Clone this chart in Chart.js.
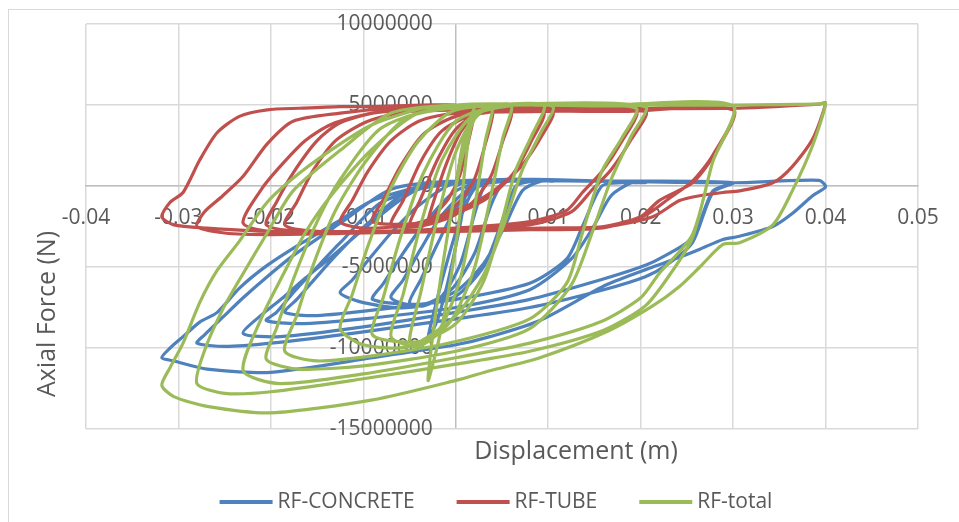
<!DOCTYPE html>
<html>
<head>
<meta charset="utf-8">
<script src="https://cdn.jsdelivr.net/npm/chart.js@4.4.1/dist/chart.umd.min.js"></script>
<style>
    html, body { margin: 0; padding: 0; background: #ffffff; }
    #wrap { width: 959px; height: 522px; }
</style>
</head>
<body>
<div id="wrap"><canvas id="forceChart" width="959" height="522"></canvas></div>
<script>
// displacement (m), one line per loading branch
const displacement = [
    0, 0.0008, 0.002,
    0.0013, 0.0004, -0.0008, -0.002, -0.003,
    -0.0022, -0.001, 0.0005, 0.002, 0.004,
    0.0032, 0.002, 0.0005, -0.0015, -0.0035, -0.005,
    -0.0038, -0.002, 0.0, 0.0025, 0.006,
    0.0051, 0.0038, 0.002, -0.0005, -0.004, -0.007,
    -0.0057, -0.0038, -0.0015, 0.002, 0.0095,
    0.0082, 0.0065, 0.0048, 0.003, 0.0, -0.004, -0.009,
    -0.0078, -0.006, -0.0035, 0.0, 0.005, 0.0105,
    0.0092, 0.0072, 0.0052, 0.003, 0.0, -0.005, -0.01, -0.0125,
    -0.0112, -0.0095, -0.007, -0.004, 0.0, 0.01, 0.0195,
    0.018, 0.0158, 0.0137, 0.012, 0.008, 0.0, -0.008, -0.015, -0.0185,
    -0.0172, -0.0155, -0.013, -0.0095, -0.005, 0.005, 0.0205,
    0.019, 0.0168, 0.0148, 0.0125, 0.008, 0.0, -0.01, -0.017, -0.0205,
    -0.0194, -0.0176, -0.015, -0.0125, -0.008, 0.0, 0.015, 0.03,
    0.0278, 0.0256, 0.022, 0.02, 0.0156, 0.008, 0.0, -0.01, -0.019, -0.023,
    -0.0209, -0.0187, -0.0163, -0.0135, -0.009, -0.004, 0.005, 0.018, 0.03,
    0.0278, 0.0256, 0.023, 0.0205, 0.016, 0.008, 0.0, -0.01, -0.02, -0.025, -0.028,
    -0.0272, -0.0252, -0.023, -0.0204, -0.0176, -0.0125, -0.007, 0.0, 0.015, 0.03, 0.0393, 0.04,
    0.0386, 0.0364, 0.0343, 0.0307, 0.0289, 0.0264, 0.0242, 0.0213, 0.0163, 0.0091, 0.0037, 0.0, -0.009, -0.02, -0.0269, -0.0305, -0.0318,
    -0.0309, -0.0295, -0.0277, -0.0258, -0.0234, -0.0204, -0.0169, -0.0125, -0.009, -0.0036, 0.0
];

// forces in MN
const concreteMN = [
    0, 0.2, 0.3,
    0.0, -2.6, -5.8, -8.3, -9.4,
    -7.4, -4.8, -2.0, -0.2, 0.3,
    0.2, -1.8, -4.8, -6.8, -7.4, -7.2,
    -5.8, -3.6, -1.4, 0.1, 0.3,
    0.2, -1.2, -4.2, -6.4, -7.4, -6.9,
    -5.8, -3.9, -1.8, 0.0, 0.4,
    0.3, 0.0, -2.5, -5.0, -6.8, -7.3, -7.0,
    -6.0, -4.4, -2.4, -0.3, 0.4, 0.3,
    0.3, -0.3, -2.6, -4.8, -6.5, -7.5, -7.2, -6.6,
    -5.8, -4.6, -2.9, -1.2, 0.2, 0.4, 0.2,
    0.2, 0.0, -2.5, -4.5, -6.0, -7.0, -7.6, -8.0, -7.8,
    -7.0, -5.9, -4.3, -2.3, -0.3, 0.4, 0.2,
    0.2, -0.6, -2.6, -4.5, -6.4, -7.5, -8.2, -8.5, -8.3,
    -7.8, -6.6, -5.0, -3.5, -1.0, 0.3, 0.3, 0.2,
    -0.3, -3.2, -4.5, -5.0, -5.8, -7.0, -7.8, -8.7, -9.3, -9.1,
    -7.9, -6.9, -5.7, -4.4, -2.2, -0.2, 0.3, 0.3, 0.2,
    -0.4, -3.5, -4.8, -5.6, -6.4, -7.5, -8.2, -9.0, -9.7, -9.9, -9.7,
    -9.2, -8.1, -6.9, -5.6, -4.3, -2.3, -0.2, 0.3, 0.3, 0.2, 0.35, -0.05,
    -0.6, -1.7, -2.5, -3.1, -3.3, -3.9, -4.4, -5.0, -6.1, -8.3, -9.3, -9.8, -10.6, -11.5, -11.3, -10.8, -10.6,
    -10.0, -9.3, -8.4, -7.8, -6.3, -4.9, -3.6, -2.1, -0.9, 0.0, 0.2
];

const tubeMN = [
    0, 2.5, 4.5,
    2.6, 0.6, -0.8, -1.6, -2.2,
    -0.6, 1.4, 3.3, 4.3, 4.7,
    2.6, 0.4, -0.9, -1.8, -2.3, -2.4,
    -0.8, 1.6, 3.5, 4.5, 4.7,
    2.8, 0.6, -0.9, -1.9, -2.5, -2.4,
    -0.9, 1.5, 3.4, 4.4, 4.6,
    2.8, 1.0, -0.1, -0.9, -1.7, -2.3, -2.2,
    -0.8, 1.2, 3.2, 4.3, 4.6, 4.6,
    3.0, 1.3, 0.2, -0.7, -1.5, -2.4, -2.6, -2.2,
    -0.9, 0.9, 2.8, 4.0, 4.5, 4.6, 4.6,
    2.8, 0.9, -0.4, -1.5, -2.2, -2.6, -2.8, -2.8, -2.4,
    -1.0, 0.9, 2.8, 4.0, 4.6, 4.7, 4.6,
    2.9, 1.0, -0.2, -1.6, -2.4, -2.7, -2.9, -2.8, -2.4,
    -1.0, 0.8, 2.8, 3.9, 4.6, 4.8, 4.6, 4.7,
    1.8, 0.2, -0.9, -1.9, -2.6, -2.7, -2.8, -2.9, -2.9, -2.3,
    -0.1, 1.4, 2.8, 3.8, 4.5, 4.7, 4.8, 4.6, 4.7,
    1.9, 0.3, -0.8, -1.8, -2.5, -2.7, -2.8, -2.9, -3.0, -2.9, -2.5,
    -1.6, -0.6, 0.6, 2.6, 4.0, 4.5, 4.8, 4.9, 4.8, 4.8, 5.05, 5.12,
    2.9, 1.2, 0.2, -0.3, -0.4, -0.6, -0.9, -1.9, -2.5, -2.6, -2.7, -2.7, -2.8, -2.8, -2.6, -2.4, -1.9,
    -1.0, -0.4, 1.6, 3.3, 4.3, 4.7, 4.8, 4.9, 4.9, 5.0, 5.0
];

const totalMN = [
    0, 2.7, 4.8,
    2.6, -2.0, -6.6, -9.9, -12.0,
    -8.0, -3.4, 1.3, 4.1, 5.0,
    2.8, -1.4, -5.7, -8.6, -9.7, -9.6,
    -6.6, -2.0, 2.1, 4.6, 5.0,
    3.0, -0.6, -5.1, -8.3, -9.9, -9.3,
    -6.7, -2.4, 1.6, 4.4, 5.0,
    3.1, 1.0, -2.6, -5.9, -8.5, -9.6, -9.2,
    -6.8, -3.2, 0.8, 4.0, 5.0, 4.9,
    3.3, 1.0, -2.4, -5.5, -8.0, -9.9, -9.8, -8.8,
    -6.7, -3.7, -0.1, 2.8, 4.7, 5.0, 4.8,
    3.0, 0.9, -2.9, -6.0, -8.2, -9.6, -10.4, -10.8, -10.2,
    -8.0, -5.0, -1.5, 1.7, 4.3, 5.0, 4.9,
    3.1, 0.4, -2.8, -6.1, -8.8, -10.2, -11.1, -11.3, -10.7,
    -8.8, -5.8, -2.2, 0.4, 3.6, 5.0, 4.95, 4.95,
    1.5, -3.0, -5.4, -6.9, -8.4, -9.7, -10.6, -11.6, -12.2, -11.4,
    -8.0, -5.5, -2.9, -0.6, 2.3, 4.5, 5.0, 4.95, 4.95,
    1.5, -3.2, -5.6, -7.4, -8.9, -10.2, -11.0, -11.9, -12.7, -12.8, -12.2,
    -10.2, -7.6, -5.4, -2.9, -0.3, 2.2, 4.5, 5.0, 5.0, 5.0, 5.05, 5.1,
    2.5, -0.3, -2.4, -3.5, -3.6, -5.0, -6.2, -7.4, -9.0, -10.6, -11.4, -12.0, -13.2, -14.0, -13.6, -13.0, -12.3,
    -11.2, -9.7, -7.2, -5.2, -3.4, -1.0, 0.8, 2.6, 3.8, 4.8, 5.0
];

const xTicks = [-0.04, -0.03, -0.02, -0.01, 0, 0.01, 0.02, 0.03, 0.04, 0.05];
const yTicks = [-15000000, -10000000, -5000000, 0, 5000000, 10000000];

const textColor = "#595959";
const gridColor = "#d9d9d9";
const axisColor = "#bfbfbf";
const fontFamily = '"Open Sans", "Liberation Sans", sans-serif';

function toPoints(forces) {
    const n = Math.min(displacement.length, forces.length);
    const pts = [];
    for (let i = 0; i < n; i++) {
        pts.push({ x: displacement[i], y: forces[i] * 1e6 });
    }
    return pts;
}

function series(label, forces, color, order) {
    return {
        label: label,
        data: toPoints(forces),
        showLine: true,
        borderColor: color,
        backgroundColor: color,
        borderWidth: 3.2,
        pointRadius: 0,
        tension: 0.25,
        order: order
    };
}

// frame, axis titles and legend
const chromePlugin = {
    id: "chrome",
    beforeDraw(chart) {
        const c = chart.ctx;
        c.save();
        c.strokeStyle = gridColor;
        c.lineWidth = 1;
        c.strokeRect(8.5, 9.5, 970, 530);
        c.restore();
    },
    afterDraw(chart) {
        const c = chart.ctx;
        c.save();
        c.fillStyle = textColor;
        c.font = "25px " + fontFamily;
        c.textAlign = "center";
        c.textBaseline = "middle";
        c.fillText("Displacement (m)", 576, 452);

        c.translate(48, 314);
        c.rotate(-Math.PI / 2);
        c.fillText("Axial Force (N)", 0, 0);
        c.restore();

        // legend in dataset order
        c.save();
        c.font = "21px " + fontFamily;
        c.textBaseline = "middle";
        c.textAlign = "left";
        const sample = 53, gap = 5, spacing = 42, legendY = 502;
        const items = chart.data.datasets.map(ds => ({
            label: ds.label,
            color: ds.borderColor,
            w: c.measureText(ds.label).width
        }));
        let total = 0;
        items.forEach((it, i) => {
            total += sample + gap + it.w + (i > 0 ? spacing : 0);
        });
        let x = 496 - total / 2;
        items.forEach(it => {
            c.strokeStyle = it.color;
            c.lineWidth = 4;
            c.beginPath();
            c.moveTo(x, legendY);
            c.lineTo(x + sample, legendY);
            c.stroke();
            c.fillStyle = textColor;
            c.fillText(it.label, x + sample + gap, legendY);
            x += sample + gap + it.w + spacing;
        });
        c.restore();
    }
};

document.addEventListener("DOMContentLoaded", function () {
    const ctx = document.getElementById("forceChart");

    new Chart(ctx, {
        type: "scatter",
        data: {
            datasets: [
                series("RF-CONCRETE", concreteMN, "#4f81bd", 3),
                series("RF-TUBE", tubeMN, "#c0504d", 2),
                series("RF-total", totalMN, "#9bbb59", 1)
            ]
        },
        options: {
            responsive: false,
            animation: false,
            layout: { padding: { left: 86, right: 41, top: 24, bottom: 93 } },
            plugins: {
                legend: { display: false },
                tooltip: { enabled: false }
            },
            scales: {
                x: {
                    type: "linear",
                    position: { y: 0 },
                    min: xTicks[0],
                    max: xTicks[xTicks.length - 1],
                    afterBuildTicks: axis => {
                        axis.ticks = xTicks.map(v => ({ value: v }));
                    },
                    ticks: {
                        padding: 19,
                        color: textColor,
                        font: { family: fontFamily, size: 21 },
                        autoSkip: false,
                        maxRotation: 0,
                        callback: value => String(Math.round(value * 1000) / 1000)
                    },
                    grid: {
                        color: c => (c.tick && c.tick.value === 0) ? axisColor : gridColor,
                        lineWidth: 1.5,
                        drawTicks: false
                    },
                    border: { color: axisColor, width: 1.5 }
                },
                y: {
                    type: "linear",
                    position: { x: -0.0025 },
                    min: yTicks[0],
                    max: yTicks[yTicks.length - 1],
                    afterBuildTicks: axis => {
                        axis.ticks = yTicks.map(v => ({ value: v }));
                    },
                    ticks: {
                        color: textColor,
                        font: { family: fontFamily, size: 21 },
                        autoSkip: false,
                        callback: value => String(value)
                    },
                    grid: {
                        color: gridColor,
                        lineWidth: 1.5,
                        drawTicks: false
                    },
                    border: { display: false }
                }
            }
        },
        plugins: [chromePlugin]
    });
});
</script>
</body>
</html>
